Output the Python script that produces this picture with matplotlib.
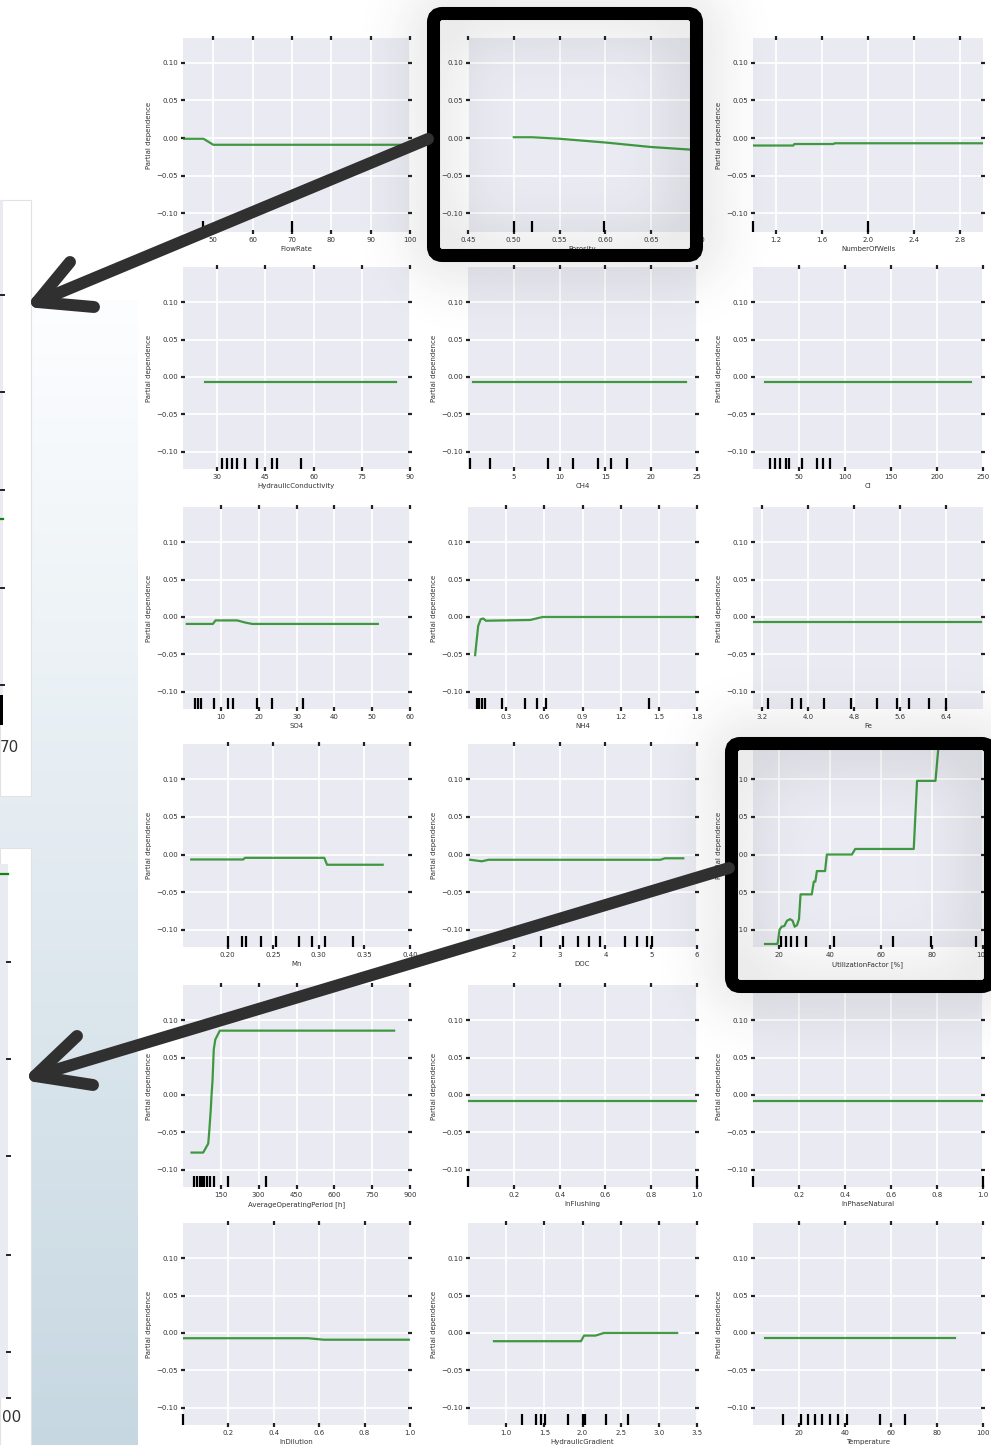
import numpy as np
import matplotlib
matplotlib.use("Agg")
import matplotlib.pyplot as plt
from matplotlib.patches import FancyBboxPatch, Rectangle

# Partial dependence of the fitted model on each input:
# grid values, averaged response and deciles of the training data (rug).

flow_x = [42.3, 47.5, 50.0, 97.5]
flow_y = [-0.001, -0.001, -0.009, -0.009]
flow_dec = [47.3, 70.0]

poro_x = [0.50, 0.52, 0.55, 0.60, 0.65, 0.70]
poro_y = [0.001, 0.001, -0.001, -0.006, -0.012, -0.016]
poro_dec = [0.500, 0.520, 0.599]

wells_x = [1.0, 1.35, 1.36, 1.70, 1.71, 3.0]
wells_y = [-0.010, -0.010, -0.008, -0.008, -0.007, -0.007]
wells_dec = [1.0, 2.0]

hk_x = [26.2, 85.5]
hk_y = [-0.007, -0.007]
hk_dec = [31.6, 33.2, 34.7, 36.3, 38.8, 42.5, 47.0, 48.6, 56.0]

ch4_x = [0.5, 23.8]
ch4_y = [-0.007, -0.007]
ch4_dec = [0.2, 2.4, 8.7, 11.5, 14.2, 15.6, 17.4]

cl_x = [13, 237]
cl_y = [-0.007, -0.007]
cl_dec = [18.5, 24, 29, 36, 39, 53, 70, 76, 84]

so4_x = [1.0, 7.9, 8.6, 14.3, 16.5, 18.3, 51.5]
so4_y = [-0.0093, -0.0093, -0.0046, -0.0046, -0.0075, -0.0093, -0.0093]
so4_dec = [3.2, 4.0, 4.8, 8.2, 11.8, 13.3, 19.5, 23.5, 31.6]

nh4_x = [0.056, 0.08, 0.10, 0.12, 0.14, 0.49, 0.56, 0.59, 1.78]
nh4_y = [-0.051, -0.012, -0.003, -0.002, -0.005, -0.004, -0.001, 0.0, 0.0]
nh4_dec = [0.07, 0.09, 0.11, 0.13, 0.27, 0.45, 0.54, 0.61, 1.42]

fe_x = [3.05, 7.0]
fe_y = [-0.007, -0.007]
fe_dec = [3.3, 3.72, 3.88, 4.28, 4.75, 5.2, 5.55, 5.76, 6.1, 6.4]

mn_x = [0.16, 0.217, 0.219, 0.306, 0.309, 0.37]
mn_y = [-0.0066, -0.0066, -0.0044, -0.0044, -0.0136, -0.0136]
mn_dec = [0.200, 0.216, 0.220, 0.237, 0.253, 0.278, 0.292, 0.307, 0.338]

doc_x = [1.05, 1.3, 1.45, 5.2, 5.3, 5.7]
doc_y = [-0.007, -0.009, -0.007, -0.007, -0.005, -0.005]
doc_dec = [2.59, 3.07, 3.40, 3.64, 3.88, 4.43, 4.69, 4.91, 5.02]

util_x = [14.7, 19.6, 20.4, 21.2, 22.3, 23.3, 24.5, 25.5, 26.3, 27.2, 28.0,
          28.6, 33.0, 33.8, 34.4, 35.0, 38.2, 38.9, 48.7, 50.0, 72.9, 74.2,
          81.4, 83.0]
util_y = [-0.119, -0.119, -0.100, -0.096, -0.095, -0.088, -0.086, -0.088,
          -0.096, -0.094, -0.086, -0.053, -0.053, -0.036, -0.036, -0.022,
          -0.022, 0.0, 0.0, 0.0074, 0.0074, 0.098, 0.098, 0.16]
util_dec = [20.9, 22.8, 24.9, 27.1, 30.7, 41.8, 64.6, 79.8, 97.1]

aop_x = [34, 80, 100, 104, 110, 113, 117, 122, 128, 146, 837]
aop_y = [-0.077, -0.077, -0.065, -0.049, -0.020, -0.001, 0.019, 0.061,
         0.074, 0.086, 0.086]
aop_dec = [43, 54, 67, 76, 85, 94, 109, 122, 179, 331]

flush_x = [0.0, 1.0]
flush_y = [-0.008, -0.008]
flush_dec = [0.0, 1.0]

phase_x = [0.0, 1.0]
phase_y = [-0.008, -0.008]
phase_dec = [0.0, 1.0]

dil_x = [0.0, 0.55, 0.62, 1.0]
dil_y = [-0.007, -0.007, -0.009, -0.009]
dil_dec = [0.0]

grad_x = [0.84, 1.98, 2.02, 2.17, 2.28, 3.24]
grad_y = [-0.011, -0.011, -0.0035, -0.0035, 0.0, 0.0]
grad_dec = [1.21, 1.39, 1.45, 1.51, 1.81, 2.0, 2.03, 2.31, 2.60]

temp_x = [5, 88]
temp_y = [-0.007, -0.007]
temp_dec = [13, 21, 24, 27, 30, 33.5, 37, 41, 55, 66]

features = ["FlowRate", "Porosity", "NumberOfWells",
            "HydraulicConductivity", "CH4", "Cl",
            "SO4", "NH4", "Fe",
            "Mn", "DOC", "UtilizationFactor [%]",
            "AverageOperatingPeriod [h]", "InFlushing", "InPhaseNatural",
            "InDilution", "HydraulicGradient", "Temperature"]
curves_x = [flow_x, poro_x, wells_x, hk_x, ch4_x, cl_x, so4_x, nh4_x, fe_x,
            mn_x, doc_x, util_x, aop_x, flush_x, phase_x, dil_x, grad_x, temp_x]
curves_y = [flow_y, poro_y, wells_y, hk_y, ch4_y, cl_y, so4_y, nh4_y, fe_y,
            mn_y, doc_y, util_y, aop_y, flush_y, phase_y, dil_y, grad_y, temp_y]
deciles = [flow_dec, poro_dec, wells_dec, hk_dec, ch4_dec, cl_dec, so4_dec,
           nh4_dec, fe_dec, mn_dec, doc_dec, util_dec, aop_dec, flush_dec,
           phase_dec, dil_dec, grad_dec, temp_dec]
x_ranges = [(42.3, 100), (0.45, 0.70), (1.0, 3.0),
            (19.4, 90), (0, 25), (0, 250),
            (0, 60), (0, 1.8), (3.04, 7.04),
            (0.151, 0.40), (1, 6), (10, 100),
            (0, 900), (0, 1), (0, 1),
            (0, 1), (0.5, 3.5), (0, 100)]
x_ticks = [[50, 60, 70, 80, 90, 100], [0.45, 0.50, 0.55, 0.60, 0.65, 0.70],
           [1.2, 1.6, 2.0, 2.4, 2.8],
           [30, 45, 60, 75, 90], [5, 10, 15, 20, 25], [50, 100, 150, 200, 250],
           [10, 20, 30, 40, 50, 60], [0.3, 0.6, 0.9, 1.2, 1.5, 1.8],
           [3.2, 4.0, 4.8, 5.6, 6.4],
           [0.20, 0.25, 0.30, 0.35, 0.40], [2, 3, 4, 5, 6], [20, 40, 60, 80, 100],
           [150, 300, 450, 600, 750, 900], [0.2, 0.4, 0.6, 0.8, 1.0],
           [0.2, 0.4, 0.6, 0.8, 1.0],
           [0.2, 0.4, 0.6, 0.8, 1.0], [1.0, 1.5, 2.0, 2.5, 3.0, 3.5],
           [20, 40, 60, 80, 100]]
x_fmt = ["%d", "%.2f", "%.1f", "%d", "%d", "%d", "%d", "%.1f", "%.1f",
         "%.2f", "%d", "%d", "%d", "%.1f", "%.1f", "%.1f", "%.1f", "%d"]
y_ticks = [-0.10, -0.05, 0.00, 0.05, 0.10]

W, H = 991, 1445
col_px = [(183, 410), (468, 697), (753, 983)]
row_px = [(38, 232), (267, 469), (507, 709), (744, 947), (985, 1187), (1223, 1425)]

fig = plt.figure(figsize=(W / 100, H / 100), dpi=100)
fig.patch.set_facecolor("white")

for i, name in enumerate(features):
    r, c = divmod(i, 3)
    x0, x1 = col_px[c]
    y0, y1 = row_px[r]
    ax = fig.add_axes([x0 / W, 1 - y1 / H, (x1 - x0) / W, (y1 - y0) / H])
    ax.set_facecolor("#eaeaf2")
    for s in ax.spines.values():
        s.set_visible(False)
    ax.grid(True, color="white", lw=1.3)
    ax.set_axisbelow(True)
    ax.plot(curves_x[i], curves_y[i], color="#138413", lw=1.6, alpha=0.8)
    ax.vlines(deciles[i], 0, 0.055, transform=ax.get_xaxis_transform(),
              color="black", lw=1.6, clip_on=False)
    ax.set_xlim(x_ranges[i])
    ax.set_ylim((-0.125, 0.133) if r == 0 else (-0.123, 0.147))
    ax.set_xticks(x_ticks[i])
    ax.set_xticklabels([x_fmt[i] % t for t in x_ticks[i]])
    ax.set_yticks(y_ticks)
    ax.set_yticklabels(["%.2f" % t if t >= 0 else "\u2212%.2f" % -t for t in y_ticks])
    ax.tick_params(direction="inout", length=2.2, width=1.6, color="#222222",
                   labelsize=5, pad=2.5, top=True, right=True, labelcolor="#333333")
    ax.set_xlabel(name, fontsize=5, labelpad=2.5, color="#333333")
    ax.set_ylabel("Partial dependence", fontsize=5, labelpad=3, color="#333333")

# overlay in pixel coordinates for the callouts
ov = fig.add_axes([0, 0, 1, 1], zorder=10)
ov.patch.set_alpha(0)
ov.axis("off")

# side strip with the enlarged views
strip = np.linspace(0, 1, 256)[:, None, None]
top_c = np.array([0.99, 0.995, 1.0])
bot_c = np.array([0.78, 0.845, 0.885])
ov.imshow(top_c + (bot_c - top_c) * strip, extent=(0, 138, H, 300),
          interpolation="bilinear", zorder=0)

ov.add_patch(Rectangle((0, 200), 31, 596, fc="white", ec="#e2e2e2", lw=0.8, zorder=1))
ov.add_patch(Rectangle((0, 200), 2.5, 520, fc="#eaeaf2", ec="none", zorder=1))
for yy in [295, 392, 490, 588, 685]:
    ov.plot([0.5, 3.5], [yy, yy], color="#222222", lw=1.4, zorder=2)
ov.plot([0, 2.5], [519, 519], color="#138413", lw=1.6, zorder=2)
ov.add_patch(Rectangle((0, 695), 3, 30, fc="black", ec="none", zorder=2))
ov.text(0, 748, "70", fontsize=11, color="#333333", va="center", ha="left", zorder=2)

ov.add_patch(Rectangle((0, 848), 31, 600, fc="white", ec="#e2e2e2", lw=0.8, zorder=1))
ov.add_patch(Rectangle((0, 864), 8, 534, fc="#eaeaf2", ec="none", zorder=1))
ov.plot([0, 8], [874, 874], color="#138413", lw=1.6, zorder=2)
for yy in [962, 1059, 1156, 1255, 1352, 1398]:
    ov.plot([7, 10], [yy, yy], color="#222222", lw=1.4, zorder=2)
ov.text(2, 1418, "00", fontsize=11, color="#333333", va="center", ha="left", zorder=2)


def ring_shadow(x0, y0, x1, y1, width, sigma):
    pad = 150
    yy, xx = np.mgrid[-pad:H + pad, -pad:W + pad]
    outer = (xx >= x0) & (xx <= x1) & (yy >= y0) & (yy <= y1)
    inner = (xx >= x0 + width) & (xx <= x1 - width) & (yy >= y0 + width) & (yy <= y1 - width)
    ring = (outer & ~inner).astype(float)
    fy = np.fft.fftfreq(ring.shape[0])[:, None]
    fx = np.fft.fftfreq(ring.shape[1])[None, :]
    kern = np.exp(-2 * (np.pi * sigma) ** 2 * (fx ** 2 + fy ** 2))
    soft = np.real(np.fft.ifft2(np.fft.fft2(ring) * kern))
    return soft[pad:-pad, pad:-pad]


boxes = [(427, 7, 703, 262), (725, 737, 997, 993)]
shade = sum(ring_shadow(*b, 13, 30) for b in boxes)
rgba = np.zeros((H, W, 4))
rgba[..., :3] = 0.2
rgba[..., 3] = np.clip(shade * 0.45, 0, 0.12)
ov.imshow(rgba, extent=(0, W, H, 0), interpolation="bilinear", zorder=3)

for bx0, by0, bx1, by1 in boxes:
    ov.add_patch(FancyBboxPatch((bx0 + 6.5, by0 + 6.5), bx1 - bx0 - 13, by1 - by0 - 13,
                                boxstyle="round,pad=0,rounding_size=9",
                                fc="none", ec="black", lw=9.4, zorder=4))

arrows = [((428, 139), (37, 302), (70, 262), (94, 307)),
          ((729, 868), (35, 1076), (77, 1036), (93, 1085))]
for start, tip, arm1, arm2 in arrows:
    ov.plot([start[0], tip[0]], [start[1], tip[1]], color="#303030", lw=8.6,
            solid_capstyle="round", zorder=5)
    ov.plot([arm1[0], tip[0], arm2[0]], [arm1[1], tip[1], arm2[1]], color="#303030",
            lw=8.6, solid_capstyle="round", solid_joinstyle="round", zorder=5)

ov.set_aspect("auto")
ov.set_xlim(0, W)
ov.set_ylim(H, 0)

fig.savefig("out.png", dpi=100)
